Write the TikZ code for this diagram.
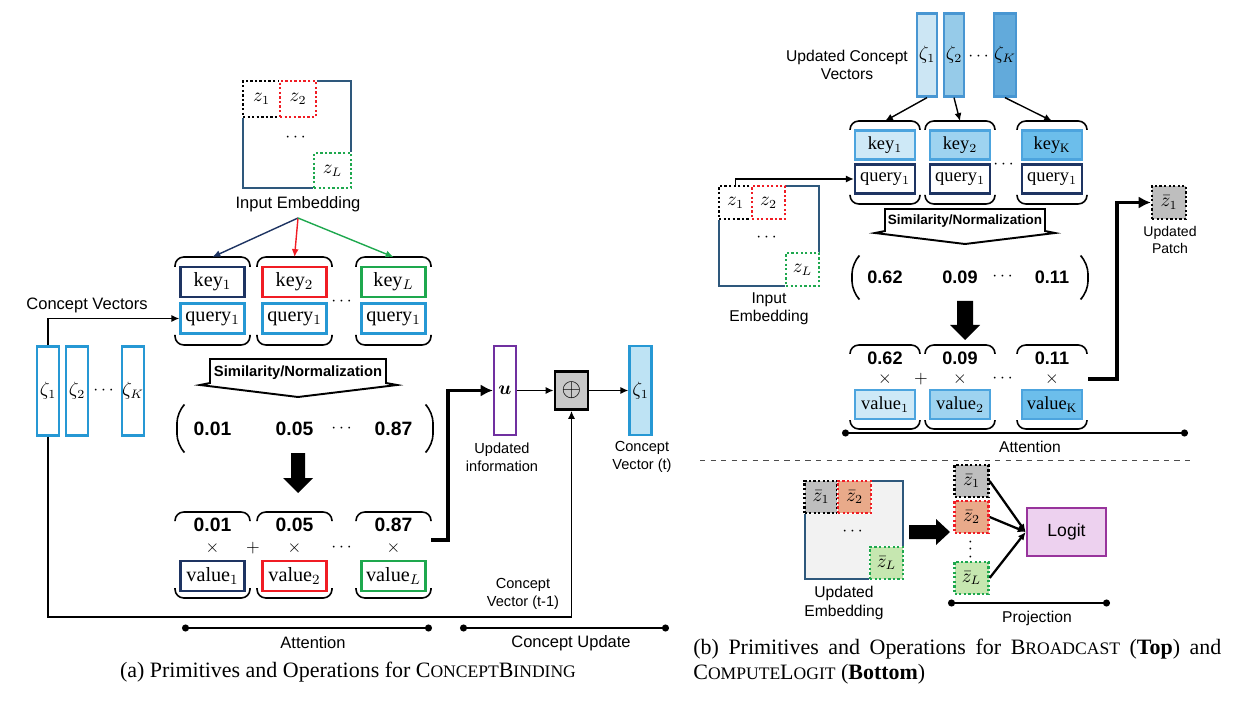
\documentclass[tikz,border=0pt]{standalone}
\usepackage{amsmath}
\usepackage{fontspec}
\setmainfont{Liberation Serif}
\setsansfont{Liberation Sans}
\usetikzlibrary{arrows.meta,positioning}

\definecolor{embblue}{RGB}{46,88,124}
\definecolor{navy}{RGB}{30,52,98}
\definecolor{kred}{RGB}{240,28,36}
\definecolor{kgreen}{RGB}{30,168,78}
\definecolor{qblue}{RGB}{38,152,212}
\definecolor{upurple}{RGB}{112,48,160}
\definecolor{opgray}{RGB}{200,200,200}
\definecolor{zfill}{RGB}{190,227,244}
\definecolor{rborder}{RGB}{76,164,222}
\definecolor{rfillA}{RGB}{206,233,247}
\definecolor{rfillB}{RGB}{158,211,240}
\definecolor{rfillC}{RGB}{108,190,235}
\definecolor{zborder}{RGB}{72,150,210}
\definecolor{zfillA}{RGB}{204,230,244}
\definecolor{zfillB}{RGB}{150,203,233}
\definecolor{zfillC}{RGB}{98,170,219}
\definecolor{pgrayfill}{RGB}{190,190,190}
\definecolor{porange}{RGB}{233,170,138}
\definecolor{pgreen}{RGB}{198,231,176}
\definecolor{embfill}{RGB}{242,242,242}
\definecolor{logitline}{RGB}{152,52,156}
\definecolor{logitfill}{RGB}{237,209,239}

\newlength\pxu
\setlength\pxu{0.02cm}
\newcommand{\fsc}[1]{{\fontsize{10}{12}\selectfont #1}}

\tikzset{
  lbl/.style={font=\sffamily\fontsize{9.4}{10.2}\selectfont, align=center, inner sep=0pt},
  slbl/.style={lbl, font=\sffamily\fontsize{8.3}{10.2}\selectfont},
  rlbl/.style={lbl, font=\sffamily\fontsize{8.9}{10.4}\selectfont},
  num/.style={font=\sffamily\bfseries\fontsize{11}{13}\selectfont, inner sep=0pt},
  rnum/.style={font=\sffamily\bfseries\fontsize{10.3}{12}\selectfont, inner sep=0pt},
  simtext/.style={font=\sffamily\bfseries\fontsize{8.4}{10}\selectfont, inner sep=0pt},
  kqv/.style={draw, line width=1.3pt, inner sep=0pt, minimum width=64\pxu, minimum height=30\pxu, font=\fontsize{11.5}{13}\selectfont},
  rkqv/.style={kqv, minimum width=60\pxu, minimum height=29\pxu, font=\fontsize{10.5}{12}\selectfont},
  vec/.style={draw, line width=1.3pt, inner sep=0pt, minimum width=22\pxu, minimum height=89\pxu, font=\fontsize{10.5}{12}\selectfont},
  emb/.style={draw=embblue, line width=1.3pt, inner sep=0pt},
  patch/.style={draw, line width=1.3pt, dash pattern=on 1.3pt off 1.3pt, inner sep=0pt,
    preaction={draw=white, solid, line width=1.3pt},
    minimum width=34\pxu, minimum height=33\pxu, font=\fontsize{10.5}{12}\selectfont},
  brk/.style={line width=0.9pt, rounded corners=5pt},
  arr/.style={-{Latex[length=4.5pt,width=4pt]}, line width=0.8pt},
  thickarr/.style={-{Latex[length=7pt,width=7pt]}, line width=2pt},
  span/.style={{Circle[length=4pt]}-{Circle[length=4pt]}, line width=0.7pt},
}

\begin{document}
\begin{tikzpicture}[x=0.02cm, y=-0.02cm]
  \useasboundingbox (0,0) rectangle (1247,709);

  % ---- (a) concept binding ----
  \node[emb, minimum width=108\pxu, minimum height=107\pxu] (inemb) at (297,134.5) {};
  \node[patch, minimum width=37\pxu, minimum height=36\pxu] (z1) at (261.5,99) {$z_1$};
  \node[patch, draw=kred, minimum width=36\pxu, minimum height=36\pxu] (z2) at (298,99) {$z_2$};
  \node[patch, draw=kgreen, minimum width=37\pxu, minimum height=35\pxu] (zL) at (332.5,170.5) {$z_L$};
  \node at (297,138) {$\cdots$};
  \node[lbl] (inembl) at (298,204) {Input Embedding};
  \coordinate (esplit) at (298,218);

  \foreach \g/\x/\c/\s/\n in {1/212.5/navy/1/0.01, 2/294.5/kred/2/0.05, 3/393.5/kgreen/L/0.87} {
    \node[kqv, draw=\c] (key\g) at (\x,282) {key$_{\s}$};
    \node[kqv, draw=qblue] (query\g) at (\x,318.5) {query$_1$};
    \node[kqv, draw=\c] (value\g) at (\x,576) {value$_{\s}$};
    \coordinate (ktop\g) at (\x,257);
    \draw[brk] (\x-37.5,267) -- (\x-37.5,257) -- (\x+37.5,257) -- (\x+37.5,267);
    \draw[brk] (\x-37.5,335) -- (\x-37.5,345) -- (\x+37.5,345) -- (\x+37.5,335);
    \draw[brk] (\x-37.5,521) -- (\x-37.5,512) -- (\x+37.5,512) -- (\x+37.5,521);
    \draw[brk] (\x-37.5,588) -- (\x-37.5,598) -- (\x+37.5,598) -- (\x+37.5,588);
    \node[num] (w\g) at (\x,429) {\n};
    \node[num] (wv\g) at (\x,525) {\n};
    \node (times\g) at (\x,548) {$\times$};
  }
  \node at (343,302) {$\cdots$};
  \node at (343,429) {$\cdots$};
  \node at (343,548) {$\cdots$};
  \node at (253,548) {$+$};

  \draw[arr, draw=navy] (esplit) -- (ktop1);
  \draw[arr, draw=kred] (esplit) -- (ktop2);
  \draw[arr, draw=kgreen] (esplit) -- (ktop3);

  % concept vectors
  \node[lbl] (cvl) at (87,305) {Concept Vectors};
  \foreach \i/\x/\s in {1/48/1, 2/77/2, 3/133/K}
    \node[vec, draw=qblue] (zeta\i) at (\x,391) {$\zeta_{\s}$};
  \node at (105,391) {$\cdots$};
  \draw[arr] (zeta1.north) |- (query1.west);

  % similarity
  \draw[line width=1.1pt, fill=white] (210,359) -- (386,359) -- (386,383) -- (397,385)
    -- (298,397) -- (200,385) -- (210,383) -- cycle;
  \node[simtext] (sim) at (298,373) {Similarity/Normalization};
  \draw[brk, rounded corners=6pt] (183,406) -- (177,412) -- (177,445) -- (183,451);
  \draw[brk, rounded corners=6pt] (427,406) -- (433,412) -- (433,445) -- (427,451);
  \fill (291,453) -- (305,453) -- (305,478) -- (313,478) -- (298,493) -- (283,478) -- (291,478) -- cycle;

  % concept update
  \node[vec, draw=upurple] (u) at (505,390.5) {$\boldsymbol{u}$};
  \node[slbl] (ul) at (502,457) {Updated\\information};
  \node[draw, line width=1.6pt, fill=opgray, inner sep=0pt, minimum width=33\pxu, minimum height=38\pxu,
    font=\Large] (oplus) at (571.5,390.5) {$\oplus$};
  \node[vec, draw=qblue, fill=zfill] (zetanew) at (640.5,390.5) {$\zeta_1$};
  \node[slbl] (zl) at (642,457) {Concept\\Vector (t)};
  \coordinate (vout) at (431,540);
  \coordinate (loopc) at (300,617);
  \draw[thickarr] (vout) -- ++(17,0) |- (u.west);
  \draw[arr] (u) -- (oplus);
  \draw[arr] (oplus) -- (zetanew);
  \draw[arr] (zeta1.south) |- (loopc) -| (oplus.south);
  \node[slbl] (oldl) at (523,594) {Concept\\Vector (t-1)};

  \draw[span] (182,628) -- (432,628);
  \node[lbl] at (313,643) {Attention};
  \draw[span] (460,628) -- (669,628);
  \node[lbl] at (571,643) {Concept Update};
  \node[font=\fontsize{12.5}{14}\selectfont, inner sep=0pt] (capa) at (348,672)
    {(a) Primitives and Operations for C\fsc{ONCEPT}B\fsc{INDING}};

  % ---- (b) broadcast ----
  \node[rlbl] (ucvl) at (847,65) {Updated Concept\\Vectors};
  \foreach \i/\x/\f/\s in {1/927/zfillA/1, 2/954/zfillB/2, 3/1005/zfillC/K}
    \node[vec, draw=zborder, fill=\f, minimum width=20\pxu, minimum height=83\pxu] (rzeta\i) at (\x,55) {$\zeta_{\s}$};
  \node at (980,57) {$\cdots$};

  \foreach \g/\x/\f/\s/\n in {1/885/rfillA/1/0.62, 2/960/rfillB/2/0.09, 3/1052/rfillC/\mathrm{K}/0.11} {
    \node[rkqv, draw=rborder, fill=\f] (rkey\g) at (\x,145) {key$_{\s}$};
    \node[rkqv, draw=navy] (rquery\g) at (\x,179) {query$_1$};
    \node[rkqv, draw=rborder, fill=\f] (rvalue\g) at (\x,404.5) {value$_{\s}$};
    \coordinate (rktop\g) at (\x,121);
    \draw[brk] (\x-35,130) -- (\x-35,121) -- (\x+35,121) -- (\x+35,130);
    \draw[brk] (\x-35,195) -- (\x-35,204) -- (\x+35,204) -- (\x+35,195);
    \draw[brk] (\x-35,354) -- (\x-35,345) -- (\x+35,345) -- (\x+35,354);
    \draw[brk] (\x-35,420) -- (\x-35,429) -- (\x+35,429) -- (\x+35,420);
    \node[rnum] (rw\g) at (\x,277) {\n};
    \node[rnum] (rwv\g) at (\x,358) {\n};
    \node (rtimes\g) at (\x,379) {$\times$};
  }
  \node at (1005,165) {$\cdots$};
  \node at (1004,277) {$\cdots$};
  \node at (1004,379) {$\cdots$};
  \node at (921,379) {$+$};
  \draw[arr] (rzeta1.south) -- (rktop1);
  \draw[arr] (rzeta2.south) -- (rktop2);
  \draw[arr] (rzeta3.south) -- (rktop3);

  \node[emb, minimum width=100\pxu, minimum height=100\pxu] (rinemb) at (769,236) {};
  \node[patch, minimum width=33\pxu, minimum height=33\pxu] (rz1) at (735.5,202.5) {$z_1$};
  \node[patch, draw=kred, minimum width=33\pxu, minimum height=33\pxu] (rz2) at (768.5,202.5) {$z_2$};
  \node[patch, draw=kgreen, minimum width=33\pxu, minimum height=33\pxu] (rzL) at (802.5,269.5) {$z_L$};
  \node at (768,238) {$\cdots$};
  \node[rlbl] (rinembl) at (769,309) {Input\\Embedding};
  \draw[arr] (rz1.north) |- (rquery1.west);

  \draw[line width=1.1pt, fill=white] (885,209) -- (1045,209) -- (1045,231) -- (1055,233)
    -- (965,244) -- (875,233) -- (885,231) -- cycle;
  \node[simtext, font=\sffamily\bfseries\fontsize{7.7}{9}\selectfont] (rsim) at (965,221) {Similarity/Normalization};
  \draw[brk, rounded corners=6pt] (858,257) -- (852,263) -- (852,292) -- (858,298);
  \draw[brk, rounded corners=6pt] (1082,257) -- (1088,263) -- (1088,292) -- (1082,298);
  \fill (957,301) -- (973,301) -- (973,325) -- (980,325) -- (965,340) -- (950,325) -- (957,325) -- cycle;

  \node[patch, fill=pgrayfill] (upatch) at (1169,202.5) {$\bar{z}_1$};
  \node[rlbl, font=\sffamily\fontsize{8}{9.6}\selectfont] (upl) at (1170,240) {Updated\\Patch};
  \coordinate (rvout) at (1088,379);
  \draw[thickarr] (rvout) -- ++(29,0) |- (upatch.west);

  \draw[span] (842,433) -- (1188,433);
  \node[rlbl] at (1030,447) {Attention};
  \draw[dashed, line width=0.5pt, black!70] (700,460) -- (1195,460);

  % ---- (b) compute logit ----
  \node[emb, fill=embfill, minimum width=98\pxu, minimum height=98\pxu] (uemb) at (854,530) {};
  \node[patch, fill=pgrayfill, minimum width=33\pxu, minimum height=32\pxu] (ub1) at (821,497) {$\bar{z}_1$};
  \node[patch, draw=kred, fill=porange, minimum width=33\pxu, minimum height=32\pxu] (ub2) at (854.5,497) {$\bar{z}_2$};
  \node[patch, draw=kgreen, fill=pgreen, minimum width=33\pxu, minimum height=32\pxu] (ubL) at (886.5,563) {$\bar{z}_L$};
  \node at (854,532) {$\cdots$};
  \node[rlbl] (uembl) at (844,603) {Updated\\Embedding};
  \fill (909,525) -- (936,525) -- (936,519) -- (950,532) -- (936,545) -- (936,539) -- (909,539) -- cycle;

  \node[patch, fill=pgrayfill, minimum height=32\pxu] (cz1) at (971.5,481) {$\bar{z}_1$};
  \node[patch, draw=kred, fill=porange, minimum height=32\pxu] (cz2) at (971.5,517) {$\bar{z}_2$};
  \node[inner sep=0pt, rotate=90] (vdot) at (971,548) {$\cdots$};
  \node[patch, draw=kgreen, fill=pgreen, minimum height=32\pxu] (czL) at (971.5,578) {$\bar{z}_L$};
  \node[draw=logitline, fill=logitfill, line width=1.5pt, inner sep=0pt, minimum width=79\pxu, minimum height=48\pxu,
    font=\sffamily\fontsize{10}{12}\selectfont] (logit) at (1066.5,532) {Logit};
  \draw[arr, line width=1.3pt] (cz1.east) -- (logit.west);
  \draw[arr, line width=1.3pt] (cz2.east) -- (logit.west);
  \draw[arr, line width=1.3pt] (czL.east) -- (logit.west);
  \draw[span] (948,603) -- (1110,603);
  \node[rlbl] at (1037,618) {Projection};

  \node[anchor=north west, text width=528\pxu, align=justify, inner sep=0pt,
    font=\fontsize{12.5}{14.2}\selectfont] (capb) at (693,639)
    {(b) Primitives and Operations for B\fsc{ROADCAST} (\textbf{Top}) and\linebreak
     C\fsc{OMPUTE}L\fsc{OGIT} (\textbf{Bottom})};
\end{tikzpicture}
\end{document}
